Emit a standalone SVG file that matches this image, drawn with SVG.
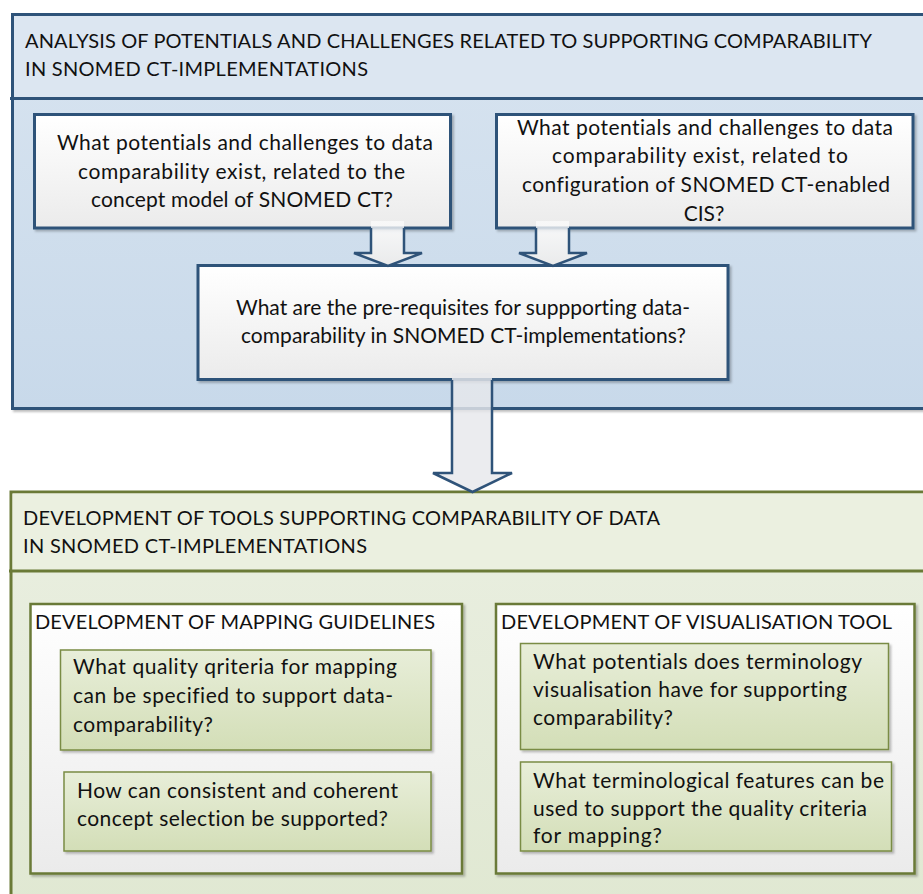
<svg xmlns="http://www.w3.org/2000/svg" width="923" height="894" viewBox="0 0 923 894">
<defs>
  <linearGradient id="gBlueBody" x1="0" y1="0" x2="0" y2="1">
    <stop offset="0" stop-color="#D8E4F0"/>
    <stop offset="1" stop-color="#C8D9EA"/>
  </linearGradient>
  <linearGradient id="gGreenBody" x1="0" y1="0" x2="0" y2="1">
    <stop offset="0" stop-color="#EAEFE1"/>
    <stop offset="1" stop-color="#E0E8D2"/>
  </linearGradient>
  <linearGradient id="gWhite" x1="0" y1="0" x2="0" y2="1">
    <stop offset="0" stop-color="#FFFFFF"/>
    <stop offset="1" stop-color="#EBEBEB"/>
  </linearGradient>
  <linearGradient id="gGreenQ" x1="0" y1="0" x2="0" y2="1">
    <stop offset="0" stop-color="#E8EED9"/>
    <stop offset="1" stop-color="#D3DEB7"/>
  </linearGradient>
  <linearGradient id="gArrow" x1="0" y1="0" x2="0" y2="1">
    <stop offset="0" stop-color="#FFFFFF" stop-opacity="0.6"/>
    <stop offset="0.3" stop-color="#F6F6F6" stop-opacity="0.95"/>
    <stop offset="1" stop-color="#EBEBEB" stop-opacity="0.95"/>
  </linearGradient>
  <filter id="sh" x="-5%" y="-5%" width="115%" height="120%">
    <feDropShadow dx="2" dy="2" stdDeviation="1.2" flood-color="#000" flood-opacity="0.25"/>
  </filter>
  <style>
    text { font-family: Lato, "Liberation Sans", sans-serif; fill: #111; font-variant-ligatures: none; }
    .t { font-size: 20px; }
    .q { font-size: 21px; }
    .h { font-size: 20px; }
    .blue { stroke: #2F5379; stroke-width: 3; }
    .green { stroke: #6A7A37; stroke-width: 3; }
    .gq { fill: url(#gGreenQ); stroke: #7A8C45; stroke-width: 1.5; }
    .arr { fill: none; stroke: #2F5379; stroke-width: 2.5; stroke-linejoin: miter; }
  </style>
</defs>

<!-- Container: analysis -->
<g id="analysis-container">
  <rect x="12.5" y="14.5" width="930" height="394" fill="url(#gBlueBody)" class="blue" filter="url(#sh)"/>
  <rect x="14" y="16" width="920" height="82" fill="#DCE6F1"/>
  <line x1="10" y1="98.5" x2="923" y2="98.5" class="blue"/>
  <text class="t" x="25" y="48" textLength="847">ANALYSIS OF POTENTIALS AND CHALLENGES RELATED TO SUPPORTING COMPARABILITY</text>
  <text class="t" x="25" y="76" textLength="343">IN SNOMED CT-IMPLEMENTATIONS</text>
</g>

<g id="q-concept-model">
  <rect x="34.5" y="114.5" width="416" height="113.5" fill="url(#gWhite)" class="blue" filter="url(#sh)"/>
  <text class="q" x="57" y="150" textLength="376">What potentials and challenges to data</text>
  <text class="q" x="78" y="179" textLength="327">comparability exist, related to the</text>
  <text class="q" x="91" y="207" textLength="302">concept model of SNOMED CT?</text>
</g>

<g id="q-configuration">
  <rect x="496.5" y="114.5" width="416.5" height="113.5" fill="url(#gWhite)" class="blue" filter="url(#sh)"/>
  <text class="q" x="517" y="135" textLength="376">What potentials and challenges to data</text>
  <text class="q" x="552" y="163" textLength="296">comparability exist, related to</text>
  <text class="q" x="522" y="192" textLength="368">configuration of SNOMED CT-enabled</text>
  <text class="q" x="704" y="221" text-anchor="middle">CIS?</text>
</g>

<g id="q-prerequisites">
  <rect x="198" y="265.5" width="530" height="114" fill="url(#gWhite)" class="blue" filter="url(#sh)"/>
  <text class="q" x="236" y="315" textLength="454">What are the pre-requisites for suppporting data-</text>
  <text class="q" x="241" y="343" textLength="445">comparability in SNOMED CT-implementations?</text>
</g>

<!-- Container: development -->
<g id="development-container">
  <rect x="11" y="492" width="930" height="420" fill="url(#gGreenBody)" class="green"/>
  <rect x="12.5" y="493.5" width="920" height="77" fill="#EBF0E0"/>
  <line x1="9" y1="571" x2="923" y2="571" class="green"/>
  <text class="t" x="23" y="525" textLength="637">DEVELOPMENT OF TOOLS SUPPORTING COMPARABILITY OF DATA</text>
  <text class="t" x="23" y="553" textLength="344">IN SNOMED CT-IMPLEMENTATIONS</text>
</g>

<g id="mapping-guidelines">
  <rect x="30.5" y="604" width="431.5" height="269.5" fill="url(#gWhite)" stroke="#6A7A37" stroke-width="2.5" filter="url(#sh)"/>
  <text class="h" x="35" y="629" textLength="400">DEVELOPMENT OF MAPPING GUIDELINES</text>
</g>

<g id="q-quality-criteria">
  <rect x="60.5" y="650" width="370.5" height="100" class="gq" filter="url(#sh)"/>
  <text class="q" x="73" y="674" textLength="324">What quality qriteria for mapping</text>
  <text class="q" x="73" y="703" textLength="320">can be specified to support data-</text>
  <text class="q" x="73" y="732" textLength="140">comparability?</text>
</g>

<g id="q-concept-selection">
  <rect x="64" y="772" width="367" height="79" class="gq" filter="url(#sh)"/>
  <text class="q" x="77" y="798" textLength="321">How can consistent and coherent</text>
  <text class="q" x="77" y="826" textLength="311">concept selection be supported?</text>
</g>

<g id="visualisation-tool">
  <rect x="496" y="604" width="418.5" height="269.5" fill="url(#gWhite)" stroke="#6A7A37" stroke-width="2.5" filter="url(#sh)"/>
  <text class="h" x="501" y="629" textLength="391">DEVELOPMENT OF VISUALISATION TOOL</text>
</g>

<g id="q-visualisation-potentials">
  <rect x="520.5" y="643.5" width="368" height="106" class="gq" filter="url(#sh)"/>
  <text class="q" x="533" y="669" textLength="329">What potentials does terminology</text>
  <text class="q" x="533" y="697" textLength="314">visualisation have for supporting</text>
  <text class="q" x="533" y="725" textLength="140">comparability?</text>
</g>

<g id="q-terminological-features">
  <rect x="520.5" y="762" width="371" height="89" class="gq" filter="url(#sh)"/>
  <text class="q" x="533" y="788" textLength="351">What terminological features can be</text>
  <text class="q" x="533" y="816" textLength="334">used to support the quality criteria</text>
  <text class="q" x="533" y="843" textLength="129">for mapping?</text>
</g>

<!-- Connectors -->
<g id="connectors">
  <g id="arrow-left">
    <polygon points="371,221 404,221 404,253 422,253 388,266 354,253 371,253" fill="url(#gArrow)"/>
    <path d="M371,228 V253 H354 L388,266 L422,253 H404 V228" class="arr"/>
  </g>
  <g id="arrow-right">
    <polygon points="536,221 569,221 569,253 587,253 553,266 519,253 536,253" fill="url(#gArrow)"/>
    <path d="M536,228 V253 H519 L553,266 L587,253 H569 V228" class="arr"/>
  </g>
  <g id="arrow-down">
    <polygon points="452,373 492,373 492,473 512,473 472.5,492 433,473 452,473" fill="#E6E8EB" fill-opacity="0.82"/>
    <path d="M452,380 V473 H433 L472.5,492 L512,473 H492 V380" class="arr"/>
  </g>
</g>
</svg>
